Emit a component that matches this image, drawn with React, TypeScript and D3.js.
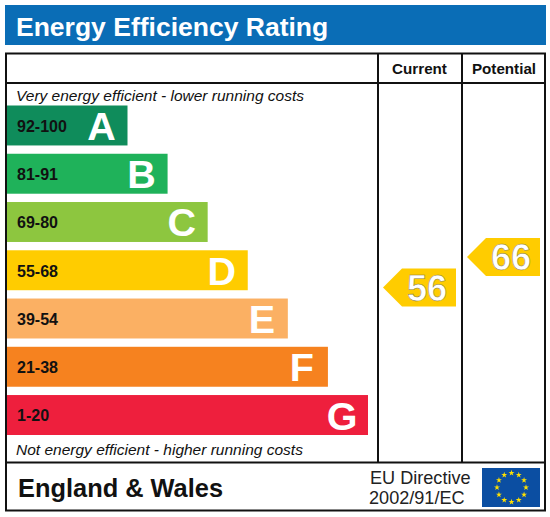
import * as d3 from 'd3';

const letters = ['A', 'B', 'C', 'D', 'E', 'F', 'G'];
const ranges = ['92-100', '81-91', '69-80', '55-68', '39-54', '21-38', '1-20'];
const bandColors = ['#0f8c5b', '#1fb25a', '#8dc63f', '#ffcc00', '#fbb063', '#f6821f', '#ee1f3d'];
const scores = [
  { label: 'Current', value: 56 },
  { label: 'Potential', value: 66 },
];
const starIndexes = d3.range(12);

const FONT = '"Liberation Sans", Arial, sans-serif';

const yBand = d3.scaleBand<string>().domain(letters).range([105.5, 435]).paddingInner(0.172).paddingOuter(0);
const xLen = d3.scaleLinear().domain([0, 6]).range([127.5, 368]);
// arrows sit on a rating scale, higher score further up
const yScore = d3.scaleLinear().domain([56, 66]).range([287.5, 257]);
const arrowRight = d3.scaleOrdinal<string, number>().domain(scores.map((d) => d.label)).range([456, 540]);

const arrowPath = (right: number, cy: number) => {
  const p = d3.path();
  p.moveTo(right, cy - 19);
  p.lineTo(right - 54, cy - 19);
  p.lineTo(right - 73, cy);
  p.lineTo(right - 54, cy + 19);
  p.lineTo(right, cy + 19);
  p.closePath();
  return p.toString();
};

const starPath = d3.symbol().type(d3.symbolStar).size(11)();

export default function App() {
  const flagCx = 511.5;
  const flagCy = 487.5;
  const starAngle = d3.scaleLinear().domain([0, 12]).range([0, 2 * Math.PI]);

  return (
    <svg width={550} height={517} style={{ position: 'absolute', left: 0, top: 0, background: '#fff' }} fontFamily={FONT}>
      {/* header */}
      <rect x={5} y={5} width={541} height={40} fill="#0a6db6" />
      <text x={16} y={36} fill="#fff" fontSize={26.5} fontWeight="bold">Energy Efficiency Rating</text>

      {/* frame */}
      <g fill="none" stroke="#111" strokeWidth={2}>
        <rect x={6} y={53.5} width={539} height={457} />
        <line x1={6} x2={545} y1={83} y2={83} />
        <line x1={6} x2={545} y1={462.5} y2={462.5} />
        <line x1={378} x2={378} y1={53.5} y2={462.5} />
        <line x1={462} x2={462} y1={53.5} y2={462.5} />
      </g>
      <text x={419.5} y={74} textAnchor="middle" fontSize={15.2} fontWeight="bold" fill="#111">Current</text>
      <text x={504} y={74} textAnchor="middle" fontSize={15.2} fontWeight="bold" fill="#111">Potential</text>

      <text x={16} y={100.5} fontSize={15.5} fontStyle="italic" fill="#111">Very energy efficient - lower running costs</text>
      <text x={16} y={454.5} fontSize={15.5} fontStyle="italic" fill="#111">Not energy efficient - higher running costs</text>

      {/* bands */}
      {letters.map((l, i) => {
        const y = yBand(l)!;
        const h = yBand.bandwidth();
        const right = xLen(i);
        return (
          <g key={l}>
            <rect x={7} y={y} width={right - 7} height={h} fill={bandColors[i]} />
            <text x={17} y={y + h / 2 + 6.3} fontSize={16} fontWeight="bold" fill="#111">{ranges[i]}</text>
            <text x={right - 26} y={y + h / 2 + 14.5} textAnchor="middle" fontSize={39.5} fontWeight="bold" fill="#fff">{l}</text>
          </g>
        );
      })}

      {/* score arrows */}
      {scores.map((s) => {
        const right = arrowRight(s.label);
        const cy = yScore(s.value);
        return (
          <g key={s.label}>
            <path d={arrowPath(right, cy)} fill="#ffcc00" />
            <text x={right - 29} y={cy + 13} textAnchor="middle" fontSize={36} fontWeight="bold" fill="#fff" stroke="#8a7a3a" strokeWidth={0.5}>{s.value}</text>
          </g>
        );
      })}

      {/* footer */}
      <text x={18} y={497} fontSize={25.4} fontWeight="bold" fill="#111">England &amp; Wales</text>
      <text x={370} y={484} fontSize={18.1} fill="#222">EU Directive</text>
      <text x={369} y={504} fontSize={18.1} fill="#222">2002/91/EC</text>
      <rect x={482} y={468} width={58} height={39} fill="#0b4ea2" />
      {starIndexes.map((i) => {
        const a = starAngle(i);
        return (
          <path
            key={i}
            d={starPath!}
            fill="#ffe000"
            transform={`translate(${flagCx + 14.5 * Math.sin(a)},${flagCy - 14.5 * Math.cos(a)})`}
          />
        );
      })}
    </svg>
  );
}
